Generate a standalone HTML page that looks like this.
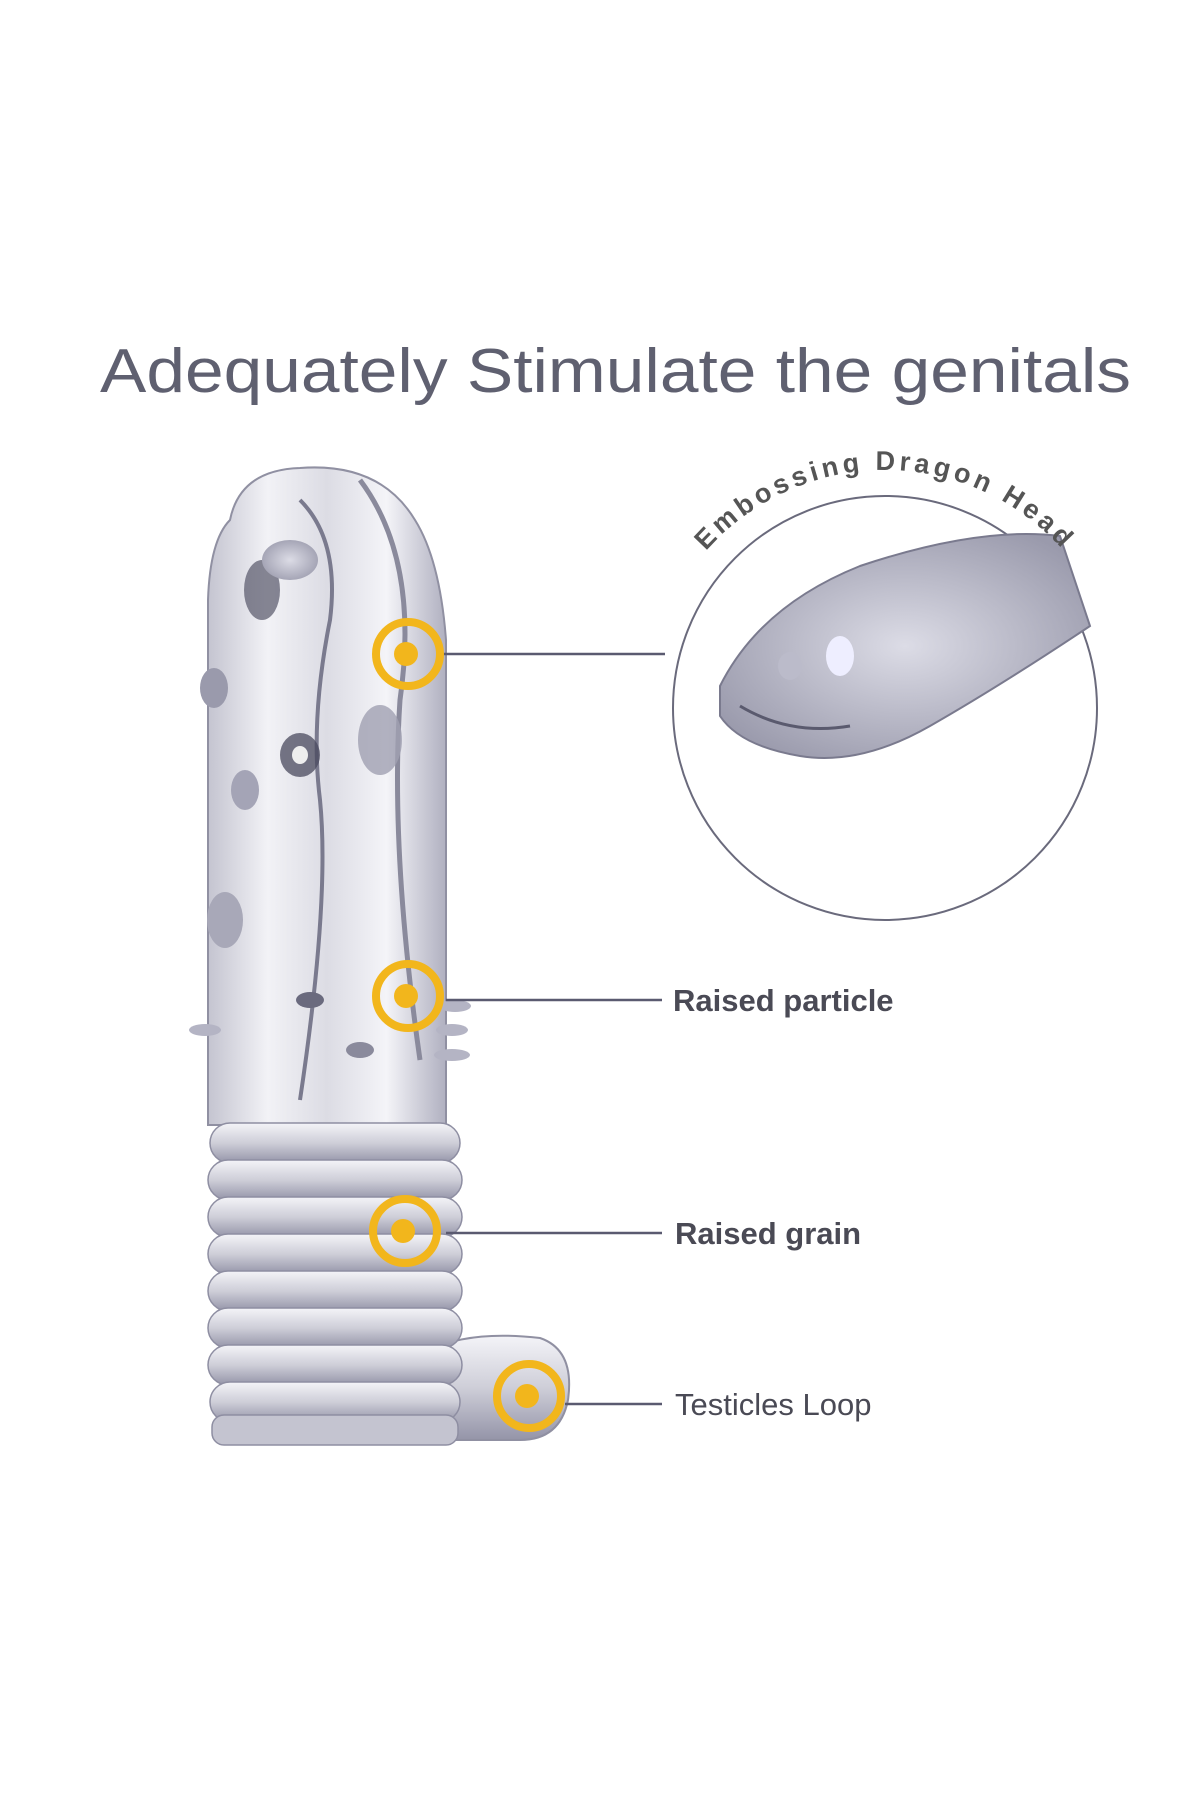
<!DOCTYPE html>
<html><head><meta charset="utf-8"><style>
html,body{margin:0;padding:0;background:#fff;}
body{width:1200px;height:1800px;overflow:hidden;}
</style></head><body>
<svg width="1200" height="1800" viewBox="0 0 1200 1800" xmlns="http://www.w3.org/2000/svg">
<defs>
<linearGradient id="body" x1="0" x2="1" y1="0" y2="0">
<stop offset="0" stop-color="#c4c4d0"/><stop offset="0.25" stop-color="#f2f2f6"/><stop offset="0.5" stop-color="#dcdce4"/><stop offset="0.75" stop-color="#f4f4f8"/><stop offset="1" stop-color="#b0b0c0"/>
</linearGradient>
<linearGradient id="rib" x1="0" x2="0" y1="0" y2="1">
<stop offset="0" stop-color="#f4f4f8"/><stop offset="0.5" stop-color="#ceced8"/><stop offset="1" stop-color="#9494a8"/>
</linearGradient>
<radialGradient id="head" cx="0.5" cy="0.5" r="0.6">
<stop offset="0" stop-color="#dcdce6"/><stop offset="1" stop-color="#9a9aac"/>
</radialGradient>
<path id="arc" d="M 647 708 A 238 238 0 0 1 1123 708"/>
</defs>

<text x="100" y="392" font-family="Liberation Sans, sans-serif" font-size="62" fill="#5f6070" textLength="1031" lengthAdjust="spacingAndGlyphs">Adequately Stimulate the genitals</text>

<!-- product -->
<g>
<path d="M230 520 Q240 470 300 468 Q380 462 415 520 Q440 560 446 640 L446 1125 L208 1125 L208 600 Q210 540 230 520 Z" fill="url(#body)" stroke="#9090a2" stroke-width="2"/>
<path d="M300 500 Q340 540 330 620 Q310 720 320 800 Q330 900 300 1100" stroke="#7a7a8e" stroke-width="4" fill="none"/>
<path d="M360 480 Q420 560 400 700 Q390 850 420 1060" stroke="#8a8a9c" stroke-width="5" fill="none"/>
<ellipse cx="262" cy="590" rx="18" ry="30" fill="#555568" opacity="0.7"/>
<ellipse cx="300" cy="755" rx="20" ry="22" fill="#4a4a5e" opacity="0.75"/>
<ellipse cx="300" cy="755" rx="8" ry="9" fill="#eee"/>
<ellipse cx="380" cy="740" rx="22" ry="35" fill="#a0a0b2" opacity="0.8"/>
<ellipse cx="214" cy="688" rx="14" ry="20" fill="#9a9aac"/>
<ellipse cx="245" cy="790" rx="14" ry="20" fill="#a4a4b6"/>
<ellipse cx="225" cy="920" rx="18" ry="28" fill="#a8a8b8"/>
<ellipse cx="310" cy="1000" rx="14" ry="8" fill="#6a6a7e"/>
<ellipse cx="360" cy="1050" rx="14" ry="8" fill="#8a8a9c"/>
<ellipse cx="290" cy="560" rx="28" ry="20" fill="url(#head)"/>
<ellipse cx="455" cy="1006" rx="16" ry="6" fill="#b4b4c4"/>
<ellipse cx="452" cy="1030" rx="16" ry="6" fill="#b4b4c4"/>
<ellipse cx="452" cy="1055" rx="18" ry="6" fill="#b4b4c4"/>
<ellipse cx="205" cy="1030" rx="16" ry="6" fill="#b4b4c4"/>
<path d="M430 1350 Q470 1330 540 1338 Q575 1350 568 1400 Q560 1440 520 1440 L430 1440 Z" fill="url(#rib)" stroke="#9090a2" stroke-width="2"/>
<g stroke="#8e8ea2" stroke-width="1.5">
<rect x="210" y="1123" width="250" height="40" rx="20" fill="url(#rib)"/>
<rect x="208" y="1160" width="254" height="40" rx="20" fill="url(#rib)"/>
<rect x="208" y="1197" width="254" height="40" rx="20" fill="url(#rib)"/>
<rect x="208" y="1234" width="254" height="40" rx="20" fill="url(#rib)"/>
<rect x="208" y="1271" width="254" height="40" rx="20" fill="url(#rib)"/>
<rect x="208" y="1308" width="254" height="40" rx="20" fill="url(#rib)"/>
<rect x="208" y="1345" width="254" height="40" rx="20" fill="url(#rib)"/>
<rect x="210" y="1382" width="250" height="40" rx="20" fill="url(#rib)"/>
<rect x="212" y="1415" width="246" height="30" rx="12" fill="#c4c4d0"/>
</g>
</g>

<!-- callout circle -->
<circle cx="885" cy="708" r="212" fill="#fff" stroke="#6a6a7c" stroke-width="2"/>
<g transform="translate(0,-34)">
<path d="M720 720 Q760 640 860 600 Q980 560 1060 570 L1090 660 Q1000 720 930 760 Q860 800 800 790 Q740 780 720 750 Z" fill="url(#head)" stroke="#7a7a8e" stroke-width="2"/>
<ellipse cx="840" cy="690" rx="14" ry="20" fill="#eef"/>
<ellipse cx="790" cy="700" rx="12" ry="14" fill="#bbbbca"/>
<path d="M740 740 Q790 770 850 760" stroke="#5a5a6e" stroke-width="3" fill="none"/>
</g>
<text font-family="Liberation Sans, sans-serif" font-size="27" font-weight="bold" fill="#555" letter-spacing="4"><textPath href="#arc" startOffset="50%" text-anchor="middle">Embossing Dragon Head</textPath></text>

<!-- connectors -->
<g stroke="#5a5a70" stroke-width="2.5">
<line x1="442" y1="654" x2="665" y2="654"/>
<line x1="446" y1="1000" x2="662" y2="1000"/>
<line x1="446" y1="1233" x2="662" y2="1233"/>
<line x1="565" y1="1404" x2="662" y2="1404"/>
</g>
<g fill="none" stroke="#f2b61c" stroke-width="8">
<circle cx="408" cy="654" r="32"/>
<circle cx="408" cy="996" r="32"/>
<circle cx="405" cy="1231" r="32"/>
<circle cx="529" cy="1396" r="32"/>
</g>
<g fill="#f2b61c">
<circle cx="406" cy="654" r="12"/>
<circle cx="406" cy="996" r="12"/>
<circle cx="403" cy="1231" r="12"/>
<circle cx="527" cy="1396" r="12"/>
</g>
<g font-family="Liberation Sans, sans-serif" font-size="31" fill="#4a4a55">
<text x="673" y="1011" font-weight="bold">Raised particle</text>
<text x="675" y="1244" font-weight="bold">Raised grain</text>
<text x="675" y="1415">Testicles Loop</text>
</g>
</svg>
</body></html>
